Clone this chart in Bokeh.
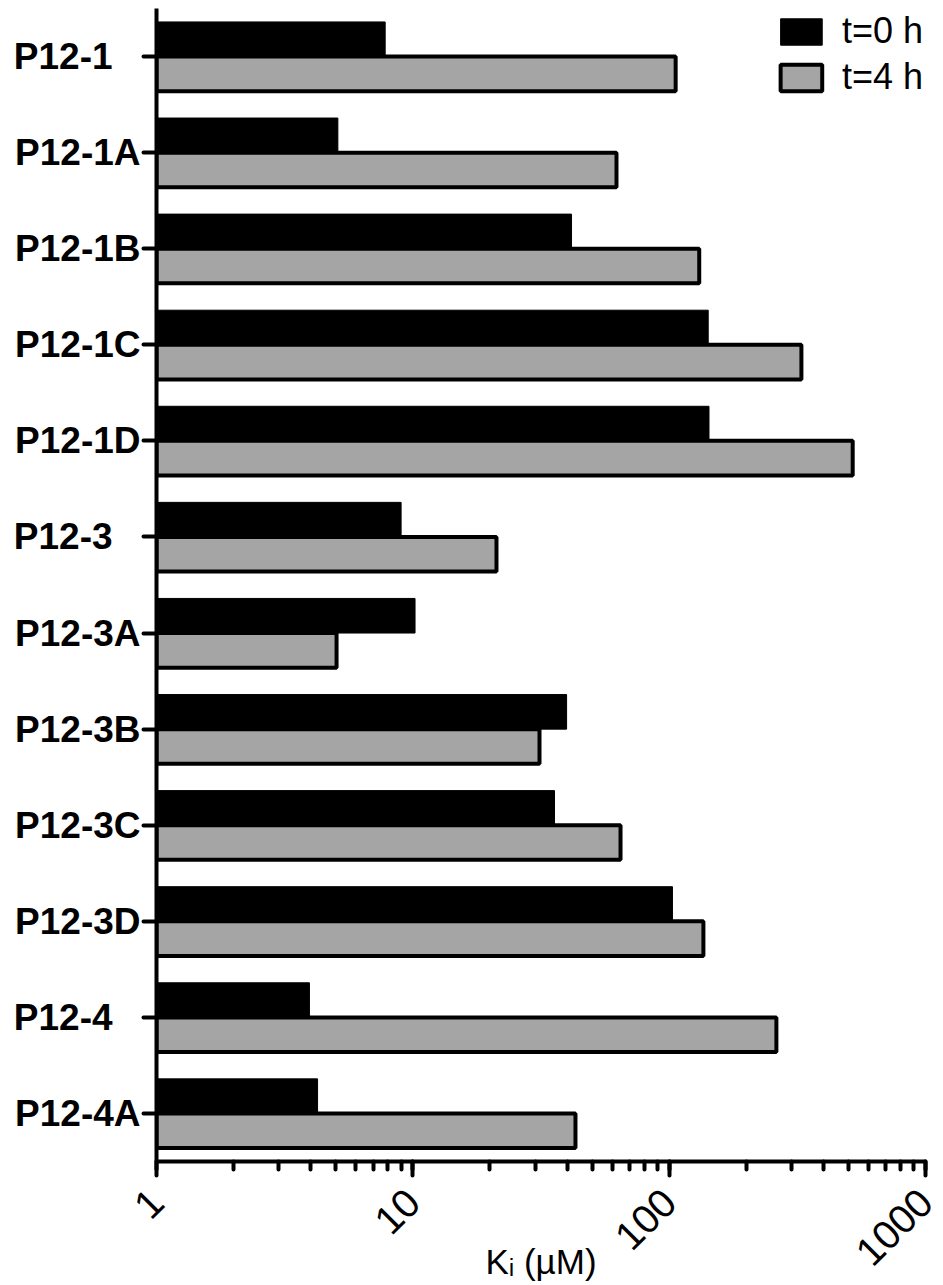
import math
from bokeh.plotting import figure
from bokeh.models import ColumnDataSource, FactorRange, Range1d
from bokeh.transform import dodge
from bokeh.embed import file_html
from bokeh.resources import INLINE

categories = ["P12-1", "P12-1A", "P12-1B", "P12-1C", "P12-1D", "P12-3",
              "P12-3A", "P12-3B", "P12-3C", "P12-3D", "P12-4", "P12-4A"]
# shorter names were padded in the original so that all labels line up
category_labels = ["P12-1\u00a0\u00a0\u2009", "P12-1A", "P12-1B", "P12-1C", "P12-1D",
                   "P12-3\u00a0\u00a0\u2009", "P12-3A", "P12-3B", "P12-3C", "P12-3D",
                   "P12-4\u00a0\u00a0\u2009", "P12-4A"]
ki_t0 = [7.8, 5.1, 41.6, 142, 143, 9.0, 10.2, 39.8, 35.7, 103, 3.95, 4.25]
ki_t4 = [106, 62.3, 131, 328, 520, 21.2, 5.04, 31.2, 64.6, 136, 262, 43.1]
series_names = ["t=0 h", "t=4 h"]
tick_values = [1, 10, 100, 1000]
tick_labels = ["1", "10", "100", "1000"]

src = ColumnDataSource(dict(cat=category_labels, name=categories, t0=ki_t0, t4=ki_t4))

p = figure(width=943, height=1284, output_backend="svg", toolbar_location=None,
           x_axis_type="log", x_range=Range1d(1, 1000),
           y_range=FactorRange(factors=list(reversed(category_labels))),
           min_border_left=156, min_border_right=18, min_border_top=8,
           min_border_bottom=122)
p.outline_line_color = None
p.xgrid.visible = False
p.ygrid.visible = False

p.hbar(y=dodge("cat", 0.18, range=p.y_range), left=1, right="t0", height=0.36,
       source=src, fill_color="black", line_color="black", line_width=1,
       legend_label=series_names[0])
p.hbar(y=dodge("cat", -0.18, range=p.y_range), left=1, right="t4", height=0.36,
       source=src, fill_color="#a5a5a5", line_color="black", line_width=4,
       legend_label=series_names[1])

font = "Liberation Sans"
for ax in (p.xaxis[0], p.yaxis[0]):
    ax.axis_line_width = 4
    ax.axis_line_color = "black"
    ax.major_tick_line_width = 4
    ax.major_tick_line_cap = "round"
    ax.minor_tick_line_width = 4
    ax.minor_tick_line_cap = "round"
    ax.major_tick_in = 0
    ax.minor_tick_in = 0
    ax.major_label_text_font = font
    ax.major_label_text_color = "black"

yax = p.yaxis[0]
yax.major_tick_out = 13
yax.major_label_text_font_size = "37px"
yax.major_label_text_font_style = "bold"
yax.major_label_standoff = 3

xax = p.xaxis[0]
xax.major_tick_out = 14
xax.minor_tick_out = 8
xax.major_label_text_font_size = "40px"
xax.major_label_standoff = 20
xax.major_label_orientation = math.pi / 4
xax.major_label_overrides = {v: l for v, l in zip(tick_values, tick_labels)}
xax.axis_label = "K\u1d62 (\u00b5M)"
xax.axis_label_text_font = font
xax.axis_label_text_color = "black"
xax.axis_label_text_font_style = "normal"
xax.axis_label_text_font_size = "35px"
xax.axis_label_standoff = -39

lg = p.legend[0]
lg.location = "top_right"
lg.background_fill_alpha = 0
lg.border_line_alpha = 0
lg.margin = 0
lg.padding = 2
lg.spacing = 4
lg.glyph_width = 52
lg.glyph_height = 33
lg.label_standoff = 15
lg.label_text_font = font
lg.label_text_color = "black"
lg.label_text_font_size = "36px"
lg.label_height = 33

open("out.html", "w").write(file_html(p, INLINE))
